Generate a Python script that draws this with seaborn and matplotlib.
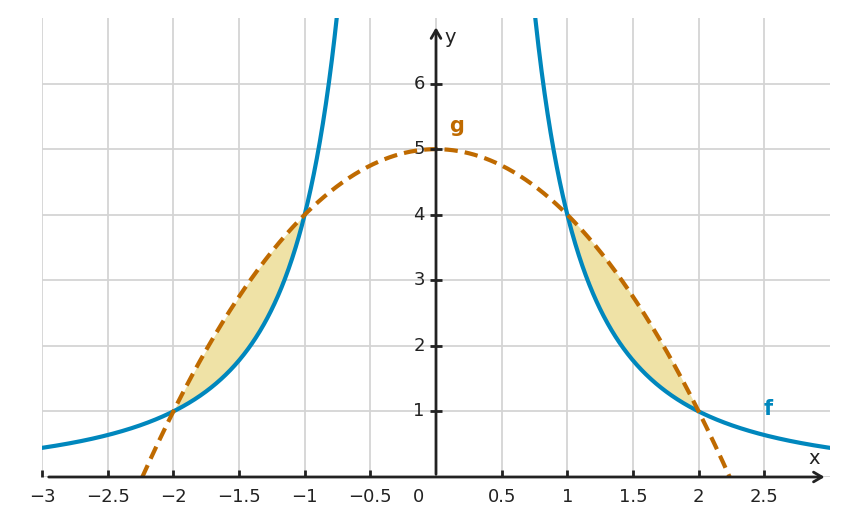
import numpy as np
import pandas as pd
import matplotlib
matplotlib.use("Agg")
import matplotlib.pyplot as plt
import seaborn as sns

# f(x) = 4 / x^2 ,  g(x) = 5 - x^2
f_num = 4.0
g_peak = 5.0
g_curv = 1.0
shade_ranges = [(-2.0, -1.0), (1.0, 2.0)]
x_ticks = [-3, -2.5, -2, -1.5, -1, -0.5, 0.5, 1, 1.5, 2, 2.5]
x_labels = ["\u22123", "\u22122.5", "\u22122", "\u22121.5", "\u22121", "\u22120.5",
            "0.5", "1", "1.5", "2", "2.5"]
y_ticks = [1, 2, 3, 4, 5, 6]

BLUE = "#0087bd"
ORANGE = "#bf6a00"
FILL = "#efe2a6"
AX = "#222222"

sns.set_style("white")
plt.rcParams["font.family"] = ["DejaVu Sans"]

fig = plt.figure(figsize=(8.48, 5.26), dpi=100)
ax = fig.add_axes([42 / 848, 49 / 526, 788 / 848, 459 / 526])
ax.set_xlim(-3, 3)
ax.set_ylim(0, 7)
for s in ax.spines.values():
    s.set_visible(False)

# grid
ax.set_xticks(np.arange(-3, 3, 0.5))
ax.set_yticks(np.arange(0, 7, 1))
ax.grid(True, color="#d4d4d4", lw=1.3, zorder=0)
ax.tick_params(length=0, labelbottom=False, labelleft=False)

# curves
xl = np.linspace(-3, -0.7, 600)
xr = np.linspace(0.7, 3, 600)
df_f = pd.concat([
    pd.DataFrame({"x": xl, "y": f_num / xl**2, "part": "l"}),
    pd.DataFrame({"x": xr, "y": f_num / xr**2, "part": "r"}),
])
xg = np.linspace(-2.3, 2.3, 800)
df_g = pd.DataFrame({"x": xg, "y": g_peak - g_curv * xg**2})

for a, b in shade_ranges:
    xs = np.linspace(a, b, 300)
    ax.fill_between(xs, f_num / xs**2, g_peak - g_curv * xs**2, color=FILL, lw=0, zorder=2)

sns.lineplot(data=df_f, x="x", y="y", units="part", estimator=None, color=BLUE,
             lw=3, ax=ax, zorder=4, legend=False)
sns.lineplot(data=df_g, x="x", y="y", color=ORANGE, lw=3, ax=ax, zorder=4,
             dashes=False, legend=False).lines[-1].set_dashes((3.2, 1.7))
ax.set_xlabel("")
ax.set_ylabel("")

# axes with arrows
ax.annotate("", xy=(2.98, 0), xytext=(-2.97, 0),
            arrowprops=dict(arrowstyle="->,head_length=0.6,head_width=0.35",
                            color=AX, lw=2), zorder=5, annotation_clip=False)
ax.annotate("", xy=(0, 6.9), xytext=(0, 0),
            arrowprops=dict(arrowstyle="->,head_length=0.6,head_width=0.35",
                            color=AX, lw=2), zorder=5, annotation_clip=False)

# tick marks and labels
ax.plot(x_ticks, [0] * len(x_ticks), ls="", marker=2, ms=5, mew=2, color=AX,
        zorder=5, clip_on=False)
ax.plot([0] * len(y_ticks), y_ticks, ls="", marker="_", ms=8, mew=2, color=AX,
        zorder=5)
for xv, lab in zip(x_ticks, x_labels):
    ax.text(xv, -0.31, lab, ha="center", va="center", fontsize=13, color=AX)
ax.text(-0.13, -0.31, "0", ha="center", va="center", fontsize=13, color=AX)
for yv in y_ticks:
    ax.text(-0.085, yv, str(yv), ha="right", va="center", fontsize=13, color=AX)

ax.text(2.88, 0.28, "x", ha="center", va="center", fontsize=14, color=AX)
ax.text(0.11, 6.7, "y", ha="center", va="center", fontsize=14, color=AX)
ax.text(0.16, 5.36, "g", ha="center", va="center", fontsize=15, color=ORANGE,
        fontweight="bold")
ax.text(2.53, 1.03, "f", ha="center", va="center", fontsize=15, color=BLUE,
        fontweight="bold")

fig.savefig("out.png", dpi=100)
